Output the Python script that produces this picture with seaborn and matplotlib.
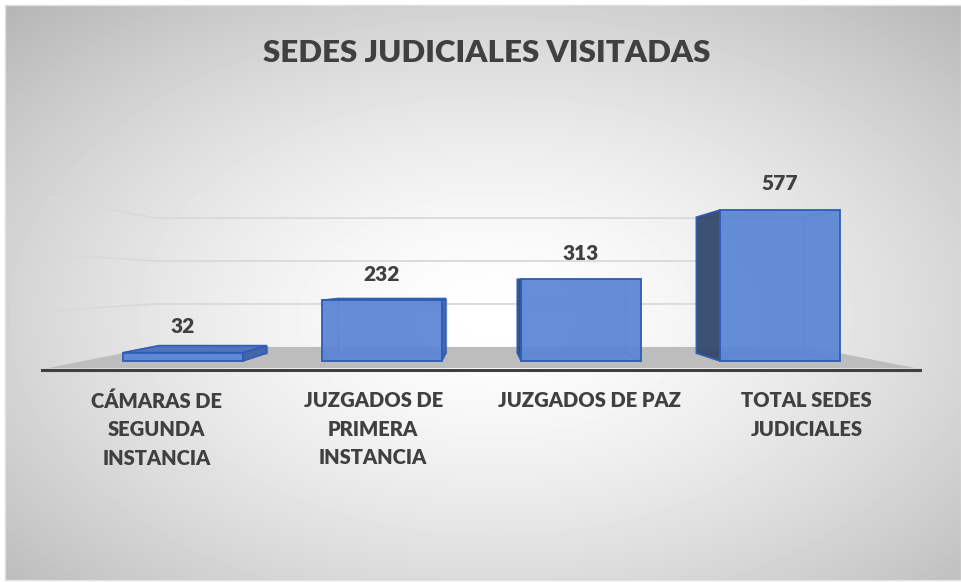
import numpy as np
import pandas as pd
import matplotlib
matplotlib.use("Agg")
import matplotlib.pyplot as plt
import seaborn as sns
from matplotlib.patches import Polygon, Rectangle

# chart data
categories = ["CÁMARAS DE\nSEGUNDA\nINSTANCIA", "JUZGADOS DE\nPRIMERA\nINSTANCIA",
              "JUZGADOS DE PAZ", "TOTAL SEDES\nJUDICIALES"]
values = [32, 232, 313, 577]
grid_values = [200, 400, 600]
title = "SEDES JUDICIALES VISITADAS"

W, H = 961, 582
TXT = "#404040"
WEIGHT = "heavy"
FRONT = "#5A85D5"
EDGE = "#2F5CB4"
SIDE_DARK = "#33486E"
SIDE_MID = "#3E63AC"
TOP = "#4C72BE"

sns.set_theme(style="white")
plt.rcParams["font.family"] = ["Lato", "DejaVu Sans"]

fig = plt.figure(figsize=(W / 100, H / 100), dpi=100)
fig.patch.set_facecolor("white")

# radial grey gradient behind the chart
bg = fig.add_axes([5 / W, 2 / H, 956 / W, 575 / H], zorder=0)
yy, xx = np.mgrid[0:575, 0:956]
dist = np.hypot((xx - 490) / 650, (yy - 310) / 400)
shade = 1 - 0.26 * dist ** 1.5
bg.imshow(shade, cmap="gray", vmin=0, vmax=1, aspect="auto", interpolation="bilinear")
bg.set_axis_off()
fig.add_artist(Rectangle((5 / W, 2 / H), 956 / W, 575 / H, transform=fig.transFigure,
                         fill=False, ec="#E0E0E0", lw=1))

# main axes: front plane of the bars, 0.2617 px per unit, baseline at y=361 px
k = 0.2617
y_lo, y_hi = -34.4, 750
bot_px = 361 - y_lo * k
top_px = 361 - y_hi * k
ax = fig.add_axes([42 / W, 1 - bot_px / H, 878 / W, (bot_px - top_px) / H], zorder=1)
ax.patch.set_alpha(0)

df = pd.DataFrame({"sede": categories, "total": values})
sns.barplot(data=df, x="sede", y="total", width=0.6, color=FRONT, saturation=1,
            edgecolor=EDGE, linewidth=1.4, alpha=0.93, errorbar=None, zorder=5, ax=ax)

ax.set_xlim(-0.7085, 3.7035)
ax.set_ylim(y_lo, y_hi)
ax.set(xlabel="", ylabel="", xticks=[], yticks=[])
for s in ["left", "right", "top"]:
    ax.spines[s].set_visible(False)
ax.spines["bottom"].set_color(TXT)
ax.spines["bottom"].set_linewidth(2.2)

# simple perspective towards a vanishing point
VP = (1.5, 300.0)
R_FLOOR, R_WALL, R_BAR = 1.089, 0.821, 0.90


def proj(x, y, r):
    return VP[0] + r * (x - VP[0]), VP[1] + r * (y - VP[1])


n = len(categories)
xl, xr = -0.5, n - 0.5

# floor
ax.add_patch(Polygon([proj(xl, 0, R_FLOOR), proj(xr, 0, R_FLOOR),
                      proj(xr, 0, R_WALL), proj(xl, 0, R_WALL)],
                     fc="#BDBDBD", ec="none", zorder=2))

# gridlines on back and side wall
for g in grid_values:
    bx0, by0 = proj(xl, g, R_WALL)
    bx1, by1 = proj(xr, g, R_WALL)
    fx0, fy0 = proj(xl, g, R_FLOOR)
    ax.plot([fx0, bx0, bx1], [fy0, by0, by1], color="#D9D9D9", lw=1.3, zorder=1.5)

# 3D faces of the bars
for bar, v in zip(ax.patches, values):
    x0, w, h = bar.get_x(), bar.get_width(), bar.get_height()
    x1 = x0 + w
    xc = x0 + w / 2
    front = [(x0, 0), (x1, 0), (x1, h), (x0, h)]
    back = [proj(x, y, R_BAR) for x, y in front]
    ax.add_patch(Polygon(back, closed=True, fill=False, ec=EDGE, lw=1, alpha=0.5, zorder=4))
    for (fx, fy), (bx, by) in zip(front, back):
        ax.plot([fx, bx], [fy, by], color=EDGE, lw=1, alpha=0.5, zorder=4)
    if xc < VP[0]:
        i, j, col = 1, 2, SIDE_MID
    else:
        i, j, col = 0, 3, SIDE_DARK
    ax.add_patch(Polygon([front[i], front[j], back[j], back[i]], fc=col, ec=EDGE,
                         lw=1.2, alpha=0.95, zorder=4.5))
    if h < VP[1]:
        ax.add_patch(Polygon([front[3], front[2], back[2], back[3]], fc=TOP, ec=EDGE,
                             lw=1.2, alpha=0.95, zorder=4.5))
    ax.annotate(f"{v}", xy=(xc, h), xytext=(0, 26), textcoords="offset pixels",
                ha="center", va="center", fontsize=15, fontweight=WEIGHT, color=TXT,
                zorder=10)

# category labels on the front edge of the floor
for i, cat in enumerate(categories):
    x_lab = VP[0] + R_FLOOR * (i - VP[0])
    ax.annotate(cat, xy=(x_lab, y_lo), xytext=(0, -21), textcoords="offset pixels",
                ha="center", va="top", multialignment="center", linespacing=1.6,
                fontsize=14.5, fontweight=WEIGHT, color=TXT, annotation_clip=False)

fig.text(487 / W, 1 - 62 / H, title, ha="center", va="baseline", fontsize=22.5,
         fontweight=WEIGHT, color=TXT)

fig.savefig("out.png", dpi=100)
